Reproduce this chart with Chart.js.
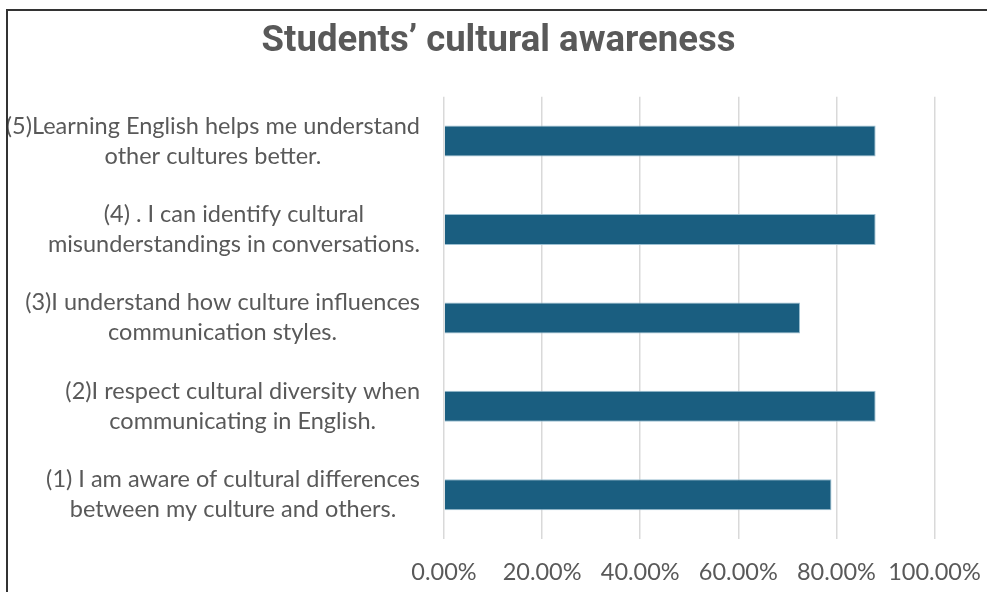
<!DOCTYPE html>
<html>
<head>
<meta charset="utf-8">
<script src="https://cdn.jsdelivr.net/npm/chart.js@4.4.1/dist/chart.umd.min.js"></script>
<style>
  html, body { margin: 0; padding: 0; background: #fff; overflow: hidden; }
  #wrap { position: relative; width: 987px; height: 592px; }
  #frame { position: absolute; left: 6px; top: 9px; width: 1100px; height: 700px;
           border-left: 2px solid #333; border-top: 2px solid #333; pointer-events: none; }
  canvas { position: absolute; left: 0; top: 0; }
</style>
</head>
<body>
<div id="wrap">
  <canvas id="c" width="987" height="592"></canvas>
  <div id="frame"></div>
</div>
<script>
const titleText = "Students\u2019 cultural awareness";
const categories = [
  ["(5)Learning English helps me understand", "other cultures better."],
  ["(4) . I can identify cultural", "misunderstandings in conversations."],
  ["(3)I understand how culture influences", "communication styles."],
  ["(2)I respect cultural diversity when", "communicating in English."],
  ["(1) I am aware of cultural differences", "between my culture and others."]
];
const values = [0.880, 0.880, 0.726, 0.880, 0.790];
const xTicks = [0, 0.2, 0.4, 0.6, 0.8, 1.0];

const labelFont = '23.5px Lato';
const labelColor = '#595959';

const wrappedLabels = {
  id: 'wrappedLabels',
  afterDraw(chart) {
    const ys = chart.scales.y;
    const ctx = chart.ctx;
    ctx.save();
    ctx.font = labelFont;
    ctx.fillStyle = labelColor;
    ctx.textAlign = 'center';
    ctx.textBaseline = 'middle';
    const rightEdge = chart.chartArea.left - 24;
    const lh = 30;
    ys.ticks.forEach((t, i) => {
      const lines = categories[i];
      const w = Math.max(...lines.map(l => ctx.measureText(l).width));
      const cx = rightEdge - w / 2;
      const cy = ys.getPixelForTick(i);
      lines.forEach((l, j) => {
        ctx.fillText(l, cx, cy + (j - (lines.length - 1) / 2) * lh);
      });
    });
    ctx.restore();
  }
};

new Chart(document.getElementById('c'), {
  type: 'bar',
  data: {
    labels: categories,
    datasets: [{
      data: values,
      backgroundColor: '#1A5E80',
      borderColor: '#9CC0D2',
      borderWidth: 1,
      barPercentage: 0.35,
      categoryPercentage: 1.0
    }]
  },
  options: {
    indexAxis: 'y',
    responsive: false,
    animation: false,
    layout: { padding: { left: 10, right: 0, top: 0, bottom: 0 } },
    plugins: {
      legend: { display: false },
      tooltip: { enabled: false },
      title: {
        display: true,
        text: titleText,
        color: '#595959',
        font: { family: 'Roboto', size: 36.5, weight: 'bold' },
        padding: { top: 20, bottom: 33 }
      }
    },
    scales: {
      x: {
        min: 0, max: 1,
        afterBuildTicks(scale) { scale.ticks = xTicks.map(v => ({ value: v })); },
        afterFit(scale) { scale.height = 53; },
        grid: { color: '#d9d9d9', lineWidth: 1.5, drawTicks: true, tickLength: 19, tickColor: 'rgba(0,0,0,0)' },
        border: { display: false },
        ticks: {
          color: '#595959',
          font: { family: 'Lato', size: 23.5 },
          padding: 0,
          maxRotation: 0,
          callback: v => (v * 100).toFixed(2) + '%'
        }
      },
      y: {
        afterFit(scale) { scale.width = 434; },
        grid: { display: false, drawTicks: false },
        border: { display: false },
        ticks: { display: false }
      },
      y2: {
        type: 'category',
        position: 'right',
        afterFit(scale) { scale.width = 52.5; },
        grid: { display: false, drawTicks: false },
        border: { display: false },
        ticks: { display: false }
      }
    }
  },
  plugins: [wrappedLabels]
});
</script>
</body>
</html>
